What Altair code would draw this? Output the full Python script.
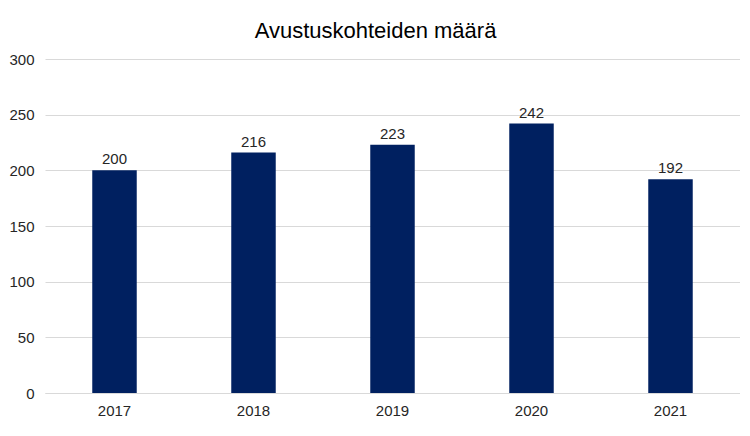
import altair as alt
import pandas as pd

years = ["2017", "2018", "2019", "2020", "2021"]
values = [200, 216, 223, 242, 192]

df = pd.DataFrame({"year": years, "value": values})

base = alt.Chart(df).encode(
    x=alt.X("year:N", sort=years, title=None,
            scale=alt.Scale(paddingInner=0.68, paddingOuter=0.34),
            axis=alt.Axis(labelAngle=0, domain=True, domainColor="#d9d9d9", ticks=False,
                          labelPadding=10, labelFont="Liberation Sans", labelFontSize=15,
                          labelColor="#262626")),
    y=alt.Y("value:Q", title=None,
            scale=alt.Scale(domain=[0, 300], nice=False),
            axis=alt.Axis(values=[0, 50, 100, 150, 200, 250, 300], domain=False, ticks=False,
                          labelPadding=11, gridColor="#d9d9d9", labelFont="Liberation Sans",
                          labelFontSize=15, labelColor="#262626")),
)

bars = base.mark_bar(color="#002060")
labels = base.mark_text(dy=-11, font="Liberation Sans", fontSize=15, color="#262626").encode(
    text="value:Q")

chart = (bars + labels).properties(
    width=695, height=334,
    autosize=alt.AutoSizeParams(type="none"),
    padding={"left": 37, "top": 51, "right": 0, "bottom": 35},
    title=alt.TitleParams("Avustuskohteiden määrä", font="Liberation Sans", fontSize=22,
                          fontWeight="normal", color="#000000", anchor="middle",
                          offset=9, dx=-17),
).configure_view(stroke=None)

chart.save("out.html", embed_options={"renderer": "svg", "actions": False})
